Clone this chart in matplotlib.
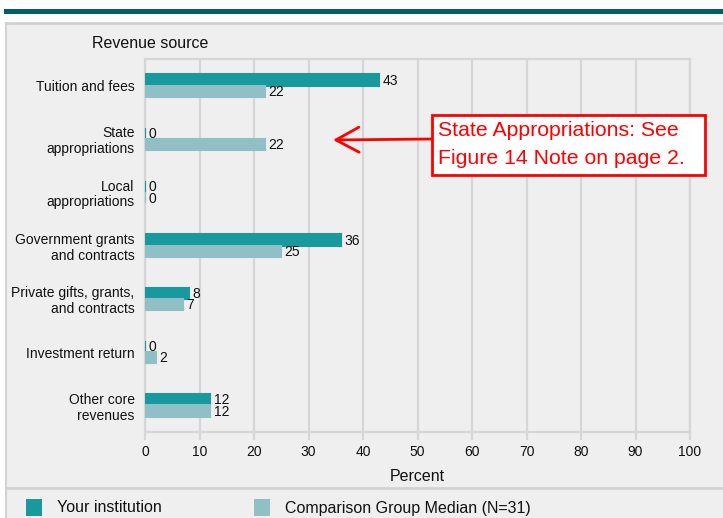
import matplotlib
matplotlib.use("Agg")
import matplotlib.pyplot as plt
from matplotlib.patches import Rectangle
from matplotlib.lines import Line2D
import numpy as np

plt.rcParams['font.family'] = ['Liberation Sans', 'DejaVu Sans']

categories = ["Tuition and fees", "State\nappropriations", "Local\nappropriations",
              "Government grants\nand contracts", "Private gifts, grants,\nand contracts",
              "Investment return", "Other core\nrevenues"]
your_institution = [43, 0, 0, 36, 8, 0, 12]
comparison_median = [22, 22, 0, 25, 7, 2, 12]
series_names = ["Your institution", "Comparison Group Median (N=31)"]
xticks = [0, 10, 20, 30, 40, 50, 60, 70, 80, 90, 100]

W, H = 723, 518
DARK = "#17999e"
LIGHT = "#90bfc5"
GRID = "#d6d6d6"
PANEL = "#efefef"

fig = plt.figure(figsize=(W / 100, H / 100), dpi=100)
fig.patch.set_facecolor("white")

def fx(px):
    return px / W

def fy(py):
    return 1 - py / H

# background panel and decorations
fig.patches.append(Rectangle((fx(6), 0), 1 - fx(6), fy(23), transform=fig.transFigure,
                             facecolor=PANEL, edgecolor="none", zorder=-2))
fig.lines.append(Line2D([fx(6), 1], [fy(23), fy(23)], transform=fig.transFigure, color="#d2d2d2", lw=2, zorder=-1))
fig.lines.append(Line2D([fx(6), fx(6)], [0, fy(23)], transform=fig.transFigure, color="#d2d2d2", lw=1.5, zorder=-1))
fig.lines.append(Line2D([fx(6), 1], [fy(488), fy(488)], transform=fig.transFigure, color="#d2d2d2", lw=2, zorder=-1))
fig.patches.append(Rectangle((fx(4), fy(14)), 1 - fx(4), fy(9) - fy(14), transform=fig.transFigure,
                             facecolor="#005f63", edgecolor="none", zorder=-1))

ax = fig.add_axes([fx(145), fy(432), fx(690) - fx(145), fy(59) - fy(432)])
ax.set_facecolor(PANEL)

y = np.arange(len(categories))
h = 0.21
b1 = ax.barh(y - h / 2, your_institution, height=h, color=DARK, edgecolor=DARK, lw=1.5, zorder=3)
b2 = ax.barh(y + h / 2, comparison_median, height=h, color=LIGHT, edgecolor=LIGHT, lw=1.5, zorder=3)
for bars, vals in ((b1, your_institution), (b2, comparison_median)):
    for bar, v in zip(bars, vals):
        ax.annotate(f"{v}", (bar.get_width(), bar.get_y() + bar.get_height() / 2),
                    xytext=(2.4, -0.5), textcoords="offset points", va="center", ha="left",
                    fontsize=10, color="#111111", zorder=4)

ax.set_xlim(0, 100)
ax.set_ylim(len(categories) - 0.5, -0.5)
ax.set_yticks(y)
ax.set_yticklabels(categories, fontsize=10, color="#111111", linespacing=1.15)
ax.set_xticks(xticks)
ax.set_xticklabels([str(t) for t in xticks], fontsize=10, color="#111111")
ax.tick_params(axis="y", length=0, pad=7.5)
ax.tick_params(axis="x", length=6, width=1.6, color=GRID, pad=3.5)
ax.grid(axis="x", color=GRID, lw=1.6, zorder=0)
for s in ax.spines.values():
    s.set_color(GRID)
    s.set_linewidth(1.6)
ax.set_xlabel("Percent", fontsize=11.5, color="#111111", labelpad=7)

fig.text(fx(92), fy(43), "Revenue source", fontsize=11.5, color="#111111", va="center", ha="left")

# annotation box
fig.patches.append(Rectangle((fx(432), fy(175)), fx(705) - fx(432), fy(115) - fy(175),
                             transform=fig.transFigure, facecolor="white", edgecolor="#ff0000",
                             lw=2, zorder=5))
fig.text(fx(438), fy(131), "State Appropriations: See",
         fontsize=15.3, color="#ff0000", va="center", ha="left", zorder=6)
fig.text(fx(438), fy(159), "Figure 14 Note on page 2.",
         fontsize=15.3, color="#ff0000", va="center", ha="left", zorder=6)
ax.annotate("", xy=(34.5, 1.02), xycoords="data",
            xytext=(432, H - 139), textcoords="figure pixels",
            arrowprops=dict(arrowstyle="->,head_length=0.83,head_width=0.45", color="#ff0000",
                            lw=2, mutation_scale=20, shrinkA=0, shrinkB=0),
            annotation_clip=False)

# legend
fig.patches.append(Rectangle((fx(26), fy(516)), fx(16), fy(0) - fy(17), transform=fig.transFigure,
                             facecolor=DARK, edgecolor="none"))
fig.text(fx(57), fy(508), series_names[0], fontsize=11.5, color="#111111", va="center", ha="left")
fig.patches.append(Rectangle((fx(254), fy(516)), fx(16), fy(0) - fy(17), transform=fig.transFigure,
                             facecolor=LIGHT, edgecolor="none"))
fig.text(fx(285), fy(508), series_names[1], fontsize=11.5, color="#111111", va="center", ha="left")

fig.savefig("out.png", dpi=100, facecolor=fig.get_facecolor())
